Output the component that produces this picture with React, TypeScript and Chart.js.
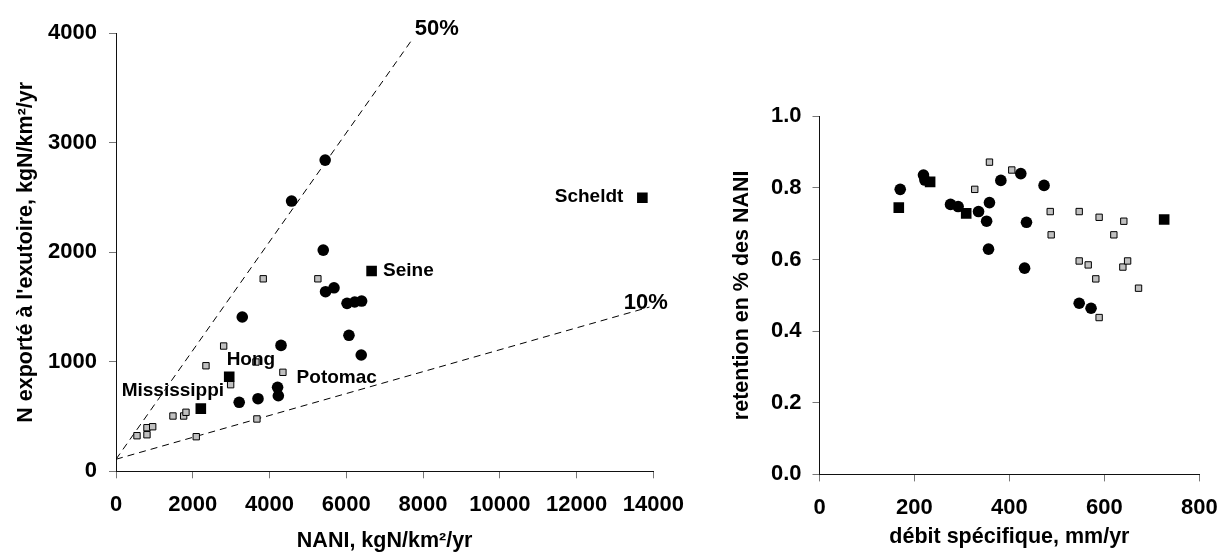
import { useEffect, useRef } from 'react';
import { Chart, registerables } from 'chart.js';

Chart.register(...registerables);

// ---------- Left chart: N exported vs NANI ----------
const naniTicksX = [0, 2000, 4000, 6000, 8000, 10000, 12000, 14000];
const exportTicksY = [0, 1000, 2000, 3000, 4000];

const circleNaniX = [5450, 4575, 5400, 5460, 5680, 6020, 6220, 6400, 3290, 4300, 6070, 6390, 4210, 4230, 3700, 3210];
const circleExportY = [2842, 2468, 2020, 1640, 1676, 1534, 1546, 1555, 1409, 1150, 1242, 1062, 767, 690, 663, 630];

const riverSquareNames = ['Seine', 'Hong', 'Mississippi', 'Scheldt'];
const riverSquareNaniX = [6660, 2950, 2210, 13715];
const riverSquareExportY = [1829, 864, 572, 2498];

const graySquareNaniX = [3836, 5260, 2805, 2344, 4349, 2987, 1484, 1763, 1823, 3672, 807, 956, 807, 547, 2091, 3646];
const graySquareExportY = [1758, 1758, 1144, 964, 904, 791, 505, 505, 539, 478, 398, 407, 334, 325, 316, 998];

const line50X = [0, 7750];
const line50Y = [110, 3960];
const line10X = [0, 13900];
const line10Y = [110, 1500];

const leftLabelTexts = ['50%', '10%', 'Seine', 'Scheldt', 'Hong', 'Mississippi', 'Potomac'];
const leftLabelX = [7786, 13228, 6958, 11432, 2883, 148, 4706];
const leftLabelY = [4038, 1541, 1831, 2507, 1016, 740, 854];
const leftLabelBig = [true, true, false, false, false, false, false];

// axis titles of the left chart, split around the superscript
const leftXTitleParts = ['NANI, kgN/km', '²', '/yr'];
const leftYTitleParts = ["N exporté à l'exutoire, kgN/km", '²', '/yr'];

// ---------- Right chart: retention vs specific discharge ----------
const debitTicksX = [0, 200, 400, 600, 800];
const retentionTicksY = [0, 0.2, 0.4, 0.6, 0.8, 1.0];

const circleDebitX = [170, 219, 222, 276, 292, 335, 358, 352, 356, 382, 424, 436, 432, 473, 547, 572];
const circleRetentionY = [0.796, 0.836, 0.822, 0.754, 0.748, 0.734, 0.759, 0.707, 0.629, 0.821, 0.84, 0.704, 0.576, 0.807, 0.478, 0.464];

const blackSquareDebitX = [167, 233, 309, 726];
const blackSquareRetentionY = [0.745, 0.817, 0.729, 0.712];

const graySquareDebitX = [358, 405, 327, 486, 547, 589, 641, 488, 620, 547, 566, 582, 639, 649, 672, 589];
const graySquareRetentionY = [0.872, 0.85, 0.796, 0.734, 0.734, 0.718, 0.707, 0.669, 0.669, 0.596, 0.585, 0.546, 0.579, 0.596, 0.52, 0.438];

// ---------- helpers ----------
const FONT = "'Liberation Sans', Arial, sans-serif";
const zip = (xs: number[], ys: number[]) => xs.map((x, i) => ({ x, y: ys[i] }));

function makeTickSetter(values: number[]) {
  return (scale: any) => {
    scale.ticks = values.map((v) => ({ value: v }));
  };
}

function axisCommon(tickPad: number, fmt: (v: number) => string) {
  return {
    grid: { display: true, drawOnChartArea: false, drawTicks: true, tickLength: 7, color: '#777', lineWidth: 1 },
    border: { display: true, color: '#111', width: 1 },
    ticks: {
      color: '#000',
      font: { family: FONT, weight: 700, size: 22 },
      padding: tickPad,
      autoSkip: false,
      maxRotation: 0,
      callback: (v: any) => fmt(Number(v)),
    },
  };
}

const titleFont = { family: FONT, weight: 700, size: 21.5 };

function pointSets(circles: any[], blacks: any[], grays: any[]) {
  return [
    { label: 'black squares', data: blacks, pointStyle: 'rect', pointRadius: 7.5, backgroundColor: '#000', borderColor: '#000', borderWidth: 0, showLine: false },
    { label: 'circles', data: circles, pointStyle: 'circle', pointRadius: 5.8, backgroundColor: '#000', borderColor: '#000', borderWidth: 0, showLine: false },
    { label: 'gray squares', data: grays, pointStyle: 'rect', pointRadius: 4.5, backgroundColor: '#c0c0c0', borderColor: '#000', borderWidth: 1, showLine: false },
  ];
}

function drawParts(ctx: CanvasRenderingContext2D, parts: string[], cx: number, cy: number, rotate: boolean) {
  ctx.save();
  ctx.font = `bold 21.5px ${FONT}`;
  ctx.fillStyle = '#000';
  ctx.textBaseline = 'middle';
  ctx.textAlign = 'left';
  const widths = parts.map((p) => ctx.measureText(p).width);
  const total = widths.reduce((a, b) => a + b, 0);
  ctx.translate(cx, cy);
  if (rotate) ctx.rotate(-Math.PI / 2);
  let x = -total / 2;
  parts.forEach((p, i) => {
    ctx.fillText(p, x, 0);
    x += widths[i];
  });
  ctx.restore();
}

const leftLabelsPlugin = {
  id: 'leftLabels',
  afterDraw(chart: any) {
    const { ctx, scales, chartArea } = chart;
    ctx.save();
    ctx.fillStyle = '#000';
    ctx.textAlign = 'left';
    ctx.textBaseline = 'middle';
    leftLabelTexts.forEach((t, i) => {
      ctx.font = `bold ${leftLabelBig[i] ? 22 : 19}px ${FONT}`;
      ctx.fillText(t, scales.x.getPixelForValue(leftLabelX[i]), scales.y.getPixelForValue(leftLabelY[i]));
    });
    ctx.restore();
    const midX = (chartArea.left + chartArea.right) / 2;
    const midY = (chartArea.top + chartArea.bottom) / 2;
    drawParts(ctx, leftXTitleParts, midX, chart.height - 16.2, false);
    drawParts(ctx, leftYTitleParts, 26, midY, true);
  },
};

export default function App() {
  const leftRef = useRef<HTMLCanvasElement>(null);
  const rightRef = useRef<HTMLCanvasElement>(null);

  useEffect(() => {
    const dashed = (xs: number[], ys: number[], label: string) => ({
      type: 'line' as const,
      label,
      data: zip(xs, ys),
      borderColor: '#000',
      borderWidth: 1,
      borderDash: [7, 5],
      pointRadius: 0,
      showLine: true,
      fill: false,
    });

    const intFmt = (v: number) => String(Math.round(v));
    const decFmt = (v: number) => v.toFixed(1);

    const left = new Chart(leftRef.current!, {
      type: 'scatter',
      data: {
        datasets: [
          ...pointSets(zip(circleNaniX, circleExportY), zip(riverSquareNaniX, riverSquareExportY), zip(graySquareNaniX, graySquareExportY)),
          dashed(line50X, line50Y, '50%'),
          dashed(line10X, line10Y, '10%'),
        ] as any,
      },
      options: {
        responsive: false,
        animation: false,
        events: [],
        layout: { padding: { left: 0, right: 66.7, top: 33.3, bottom: 0 } },
        plugins: { legend: { display: false }, tooltip: { enabled: false } },
        scales: {
          x: {
            type: 'linear',
            min: 0,
            max: 14000,
            ...axisCommon(13.5, intFmt),
            afterBuildTicks: makeTickSetter(naniTicksX),
            afterFit: (s: any) => { s.height = 85.7; s.paddingLeft = 0; s.paddingRight = 0; },
            title: { display: false },
          },
          y: {
            type: 'linear',
            min: 0,
            max: 4000,
            ...axisCommon(12, intFmt),
            afterBuildTicks: makeTickSetter(exportTicksY),
            afterFit: (s: any) => { s.width = 116; s.paddingTop = 0; s.paddingBottom = 0; },
            title: { display: false },
          },
        },
      } as any,
      plugins: [leftLabelsPlugin],
    });

    const right = new Chart(rightRef.current!, {
      type: 'scatter',
      data: {
        datasets: pointSets(zip(circleDebitX, circleRetentionY), zip(blackSquareDebitX, blackSquareRetentionY), zip(graySquareDebitX, graySquareRetentionY)) as any,
      },
      options: {
        responsive: false,
        animation: false,
        events: [],
        layout: { padding: { left: 0, right: 21.7, top: 116.3, bottom: 0 } },
        plugins: { legend: { display: false }, tooltip: { enabled: false } },
        scales: {
          x: {
            type: 'linear',
            min: 0,
            max: 800,
            ...axisCommon(13.5, intFmt),
            afterBuildTicks: makeTickSetter(debitTicksX),
            afterFit: (s: any) => { s.height = 82.6; s.paddingLeft = 0; s.paddingRight = 0; },
            title: { display: true, text: 'débit spécifique, mm/yr', color: '#000', font: titleFont, padding: { top: 0, bottom: 6.6 } },
          },
          y: {
            type: 'linear',
            min: 0,
            max: 1,
            ...axisCommon(11, decFmt),
            afterBuildTicks: makeTickSetter(retentionTicksY),
            afterFit: (s: any) => { s.width = 99.5; s.paddingTop = 0; s.paddingBottom = 0; },
            title: { display: true, text: 'retention en % des NANI', color: '#000', font: titleFont, padding: { top: 9, bottom: 0 } },
          },
        },
      } as any,
    });

    return () => {
      left.destroy();
      right.destroy();
    };
  }, []);

  return (
    <div style={{ position: 'fixed', left: 0, top: 0, width: 1221, height: 557, background: '#fff', overflow: 'hidden' }}>
      <canvas ref={leftRef} width={720} height={557} style={{ position: 'absolute', left: 0, top: 0, width: 720, height: 557 }} />
      <canvas ref={rightRef} width={501} height={557} style={{ position: 'absolute', left: 720, top: 0, width: 501, height: 557 }} />
    </div>
  );
}
